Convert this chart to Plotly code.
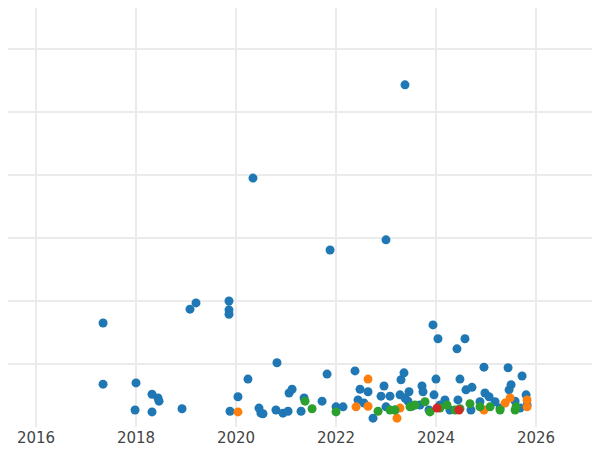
import plotly.graph_objects as go
import pandas as pd

def to_dates(years):
    out = []
    for y in years:
        yr = int(y)
        start = pd.Timestamp(year=yr, month=1, day=1)
        out.append(start + pd.Timedelta(days=(y - yr) * 365.25))
    return out

blue_x = [2017.34,2017.34,2018.0,2017.98,2018.32,2018.32,2018.44,2018.46,2018.92,2019.08,2019.2,2019.86,2019.86,2019.86,2019.88,2020.04,2020.24,2020.34,2020.46,2020.5,2020.54,2020.8,2020.82,2020.94,2021.04,2021.06,2021.12,2021.3,2021.36,2021.72,2021.82,2021.88,2022.0,2022.14,2022.38,2022.44,2022.48,2022.56,2022.64,2022.74,2022.9,2022.96,2023.0,2023.0,2023.08,2023.18,2023.28,2023.3,2023.36,2023.38,2023.38,2023.44,2023.46,2023.52,2023.68,2023.72,2023.74,2023.86,2023.94,2023.96,2024.0,2024.04,2024.08,2024.18,2024.28,2024.42,2024.44,2024.48,2024.58,2024.6,2024.72,2024.7,2024.88,2024.96,2024.98,2025.06,2025.18,2025.28,2025.44,2025.46,2025.5,2025.58,2025.68,2025.72,2025.8,2025.82]
blue_y = [1.65,0.68,0.70,0.27,0.52,0.24,0.46,0.41,0.29,1.87,1.97,2.0,1.86,1.79,0.25,0.48,0.76,3.95,0.30,0.22,0.21,0.27,1.02,0.22,0.25,0.54,0.60,0.25,0.46,0.41,0.84,2.81,0.32,0.32,0.89,0.43,0.60,0.38,0.56,0.14,0.49,0.65,2.97,0.32,0.49,0.27,0.51,0.75,0.86,5.43,0.46,0.41,0.56,0.33,0.35,0.65,0.56,0.27,1.62,0.51,0.76,1.40,0.35,0.43,0.27,1.24,0.43,0.76,1.40,0.59,0.63,0.27,0.40,0.95,0.54,0.48,0.40,0.30,0.94,0.59,0.67,0.41,0.30,0.81,0.51,0.35]
orange_x = [2020.04,2022.4,2022.64,2022.64,2023.22,2023.28,2024.96,2025.38,2025.48,2025.82,2025.82]
orange_y = [0.24,0.32,0.76,0.33,0.14,0.30,0.27,0.38,0.46,0.43,0.32]
green_x = [2021.38,2021.52,2022.0,2022.84,2023.08,2023.18,2023.48,2023.58,2023.78,2023.88,2024.08,2024.22,2024.38,2024.48,2024.68,2024.88,2025.08,2025.28,2025.58,2025.6]
green_y = [0.41,0.29,0.24,0.25,0.27,0.27,0.32,0.35,0.40,0.24,0.30,0.35,0.27,0.29,0.37,0.32,0.32,0.27,0.27,0.32]
red_x = [2024.02,2024.46]
red_y = [0.30,0.27]

fig = go.Figure()
for xs, ys, c in [(blue_x, blue_y, "#1f77b4"), (orange_x, orange_y, "#ff7f0e"),
                  (green_x, green_y, "#2ca02c"), (red_x, red_y, "#d62728")]:
    fig.add_trace(go.Scatter(x=to_dates(xs), y=ys, mode="markers",
                             marker=dict(color=c, size=9), showlegend=False))

fig.update_layout(
    width=592, height=442, template="plotly_white",
    margin=dict(l=0, r=0, t=0, b=23),
    font=dict(family="DejaVu Sans", size=15, color="#444"),
    xaxis=dict(range=[to_dates([2015.44])[0], to_dates([2027.28])[0]],
               dtick="M24", tick0="2016-01-01", tickformat="%Y",
               gridcolor="#ebebeb", gridwidth=2, showline=False, zeroline=False),
    yaxis=dict(range=[0, 6.65], dtick=1, showticklabels=False,
               gridcolor="#ebebeb", gridwidth=2, zeroline=False),
)
fig.write_html("out.html")
